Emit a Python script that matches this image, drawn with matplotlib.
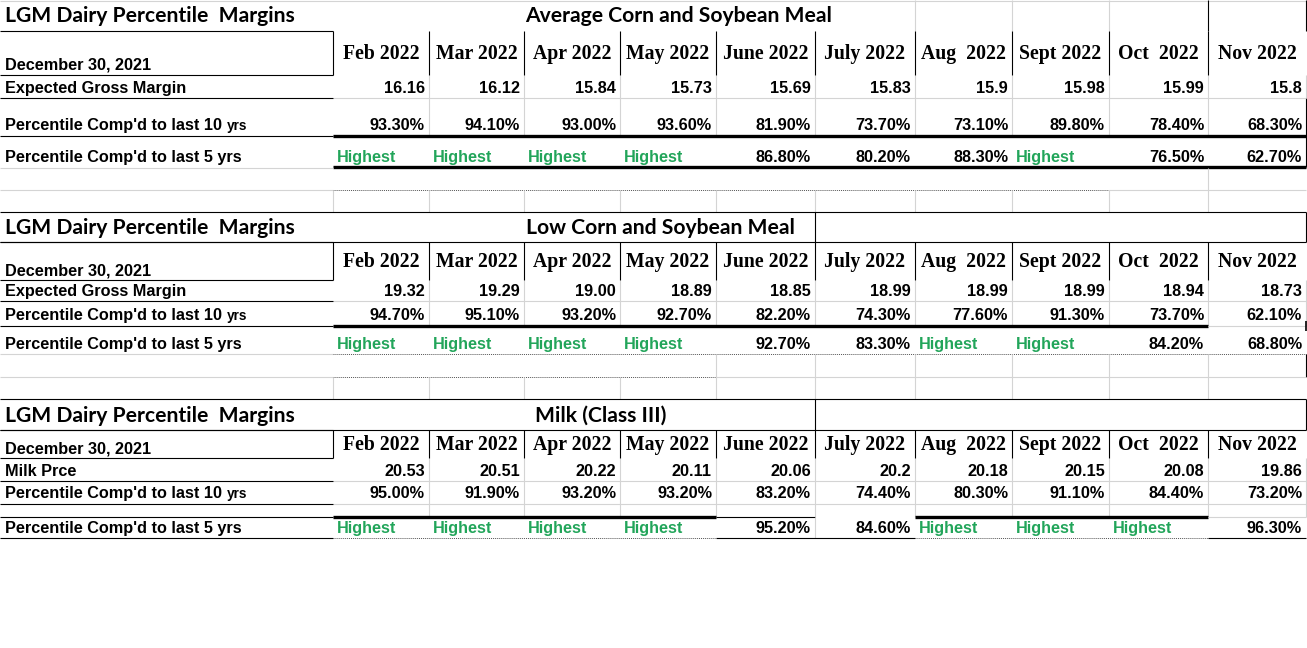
import matplotlib
matplotlib.use("Agg")
import matplotlib.pyplot as plt

# ---------------- data ----------------
months = ["Feb 2022", "Mar 2022", "Apr 2022", "May 2022", "June 2022",
          "July 2022", "Aug  2022", "Sept 2022", "Oct  2022", "Nov 2022"]
report_date = "December 30, 2021"
main_title = "LGM Dairy Percentile  Margins"
table_titles = ["Average Corn and Soybean Meal", "Low Corn and Soybean Meal", "Milk (Class III)"]
first_row_labels = ["Expected Gross Margin", "Expected Gross Margin", "Milk Prce"]

avg_margin = [16.16, 16.12, 15.84, 15.73, 15.69, 15.83, 15.9, 15.98, 15.99, 15.8]
avg_pct10 = [93.3, 94.1, 93.0, 93.6, 81.9, 73.7, 73.1, 89.8, 78.4, 68.3]
avg_pct5 = [None, None, None, None, 86.8, 80.2, 88.3, None, 76.5, 62.7]

low_margin = [19.32, 19.29, 19.00, 18.89, 18.85, 18.99, 18.99, 18.99, 18.94, 18.73]
low_pct10 = [94.7, 95.1, 93.2, 92.7, 82.2, 74.3, 77.6, 91.3, 73.7, 62.1]
low_pct5 = [None, None, None, None, 92.7, 83.3, None, None, 84.2, 68.8]

milk_price = [20.53, 20.51, 20.22, 20.11, 20.06, 20.2, 20.18, 20.15, 20.08, 19.86]
milk_pct10 = [95.0, 91.9, 93.2, 93.2, 83.2, 74.4, 80.3, 91.1, 84.4, 73.2]
milk_pct5 = [None, None, None, None, 95.2, 84.6, None, None, None, 96.3]

first_formats = ["{:g}", "{:.2f}", "{:g}"]
first_values = [avg_margin, low_margin, milk_price]
pct10_values = [avg_pct10, low_pct10, milk_pct10]
pct5_values = [avg_pct5, low_pct5, milk_pct5]

# ---------------- layout (pixels) ----------------
W, H = 1307, 648
cols = [0, 333, 429, 524, 620, 716, 815, 915, 1012, 1109, 1208, 1306]
GRAY = "#d4d4d4"
BLACK = "#000000"
GREEN = "#22a55a"
THIN = 0.8
THICK = 2.4

fig = plt.figure(figsize=(W / 100, H / 100), dpi=100)
ax = fig.add_axes([0, 0, 1, 1])
ax.set_xlim(0, W)
ax.set_ylim(H, 0)
ax.axis("off")

LABEL_FONT = dict(family="Liberation Sans", weight="bold", size=11.7)
NUM_FONT = dict(family="Liberation Sans", weight="bold", size=11.7)
HEAD_FONT = dict(family="Liberation Serif", weight="bold", size=14.2)
TITLE_FONT = dict(family="Lato", weight="bold", size=15.2)


def hl(y, x0, x1, color=GRAY, lw=THIN, ls="-"):
    ax.plot([x0, x1], [y, y], color=color, lw=lw, ls=ls, solid_capstyle="butt")


def vl(x, y0, y1, color=GRAY, lw=THIN):
    ax.plot([x, x], [y0, y1], color=color, lw=lw, solid_capstyle="butt")


DOT = (0, (1, 1))

tables = [
    dict(title=(0, 31), head=(31, 75), r1=(75, 98), r2=(98, 136), r3=(136, 167)),
    dict(title=(212, 242), head=(242, 280), r1=(280, 301), r2=(301, 326), r3=(326, 354)),
    dict(title=(399, 430), head=(430, 458), r1=(458, 481), r2=(481, 504), r3=(517, 538)),
]

# ---------------- gridlines / borders ----------------
# table 1
hl(1, 0, 1306)
for x in cols[7:11]:
    vl(x, 0, 31, GRAY if x < 1208 else BLACK)
vl(1306, 0, 31, BLACK)
for x in cols[2:11]:
    vl(x, 75, 136)
vl(1306, 75, 98)
vl(1306, 98, 167, BLACK)
hl(98, 333, 1306)
hl(136, 333, 1306, BLACK, THICK)
hl(167, 333, 1306, BLACK, THICK)
hl(168, 0, 333)
vl(1208, 168, 190)
hl(190, 0, 333)
hl(190, 333, 1109, "#555555", 0.7, DOT)
hl(190, 1109, 1306)
for x in cols[1:11]:
    vl(x, 190, 212)

# table 2
hl(212, 0, 1306, BLACK)
hl(242, 0, 1306, BLACK)
vl(815, 212, 242, BLACK)
vl(1306, 212, 242, BLACK)
for x in cols[2:11]:
    vl(x, 280, 326)
vl(1306, 280, 326)
hl(301, 333, 1306)
hl(326, 333, 1208, BLACK, THICK)
hl(326, 1208, 1306)
vl(1306, 321, 331, BLACK, 1.2)
hl(354, 0, 333)
hl(354, 333, 1306, "#555555", 0.7, DOT)
for x in cols[5:11]:
    vl(x, 354, 377)
vl(1306, 354, 377, BLACK)
hl(377, 0, 333)
hl(377, 333, 716, "#555555", 0.7, DOT)
hl(377, 716, 1306)
for x in cols[1:11]:
    vl(x, 377, 399)

# table 3
hl(399, 0, 1306, BLACK)
hl(430, 0, 1306, BLACK)
vl(815, 399, 430, BLACK)
vl(1306, 399, 430, BLACK)
for x in cols[2:11]:
    vl(x, 458, 517)
vl(1306, 458, 517)
hl(481, 333, 1306)
hl(504, 333, 1306)
hl(517, 0, 333, BLACK)
hl(517, 333, 716, BLACK, THICK)
hl(517, 716, 815, BLACK)
hl(517, 915, 1208, BLACK, THICK)
hl(517, 1208, 1306)
vl(815, 517, 538)
hl(538, 0, 333, BLACK)
hl(538, 333, 716, "#555555", 0.7, DOT)
hl(538, 716, 915, BLACK)
hl(538, 915, 1208, "#555555", 0.7, DOT)
hl(538, 1208, 1306, BLACK)

for t in tables:
    h0, h1 = t["head"]
    hl(h0, 0, 333, BLACK)
    vl(333, h0, h1, BLACK)
    hl(h1, 0, 333, BLACK)
    for x in cols[2:11]:
        vl(x, h0, h1, BLACK)
    hl(t["r1"][1], 0, 333, BLACK)
    hl(t["r2"][1], 0, 333, BLACK)

# ---------------- text ----------------
title_x = [525, 526, 535]
for i, t in enumerate(tables):
    ty = (t["title"][0] + t["title"][1]) / 2 + 1
    ax.text(5, ty, main_title, ha="left", va="center", **TITLE_FONT)
    ax.text(title_x[i], ty, table_titles[i], ha="left", va="center", **TITLE_FONT)

    h0, h1 = t["head"]
    ax.text(5, h1 - 5, report_date, ha="left", va="baseline", **LABEL_FONT)
    for j, m in enumerate(months):
        ax.text((cols[j + 1] + cols[j + 2]) / 2, (h0 + h1) / 2 + 1, m,
                ha="center", va="center", **HEAD_FONT)

    yb = t["r1"][1] - 5
    ax.text(5, yb, first_row_labels[i], ha="left", va="baseline", **LABEL_FONT)
    for j, v in enumerate(first_values[i]):
        ax.text(cols[j + 2] - 4, yb, first_formats[i].format(v),
                ha="right", va="baseline", **NUM_FONT)

    yb = t["r2"][1] - 6
    lab = ax.text(5, yb, "Percentile Comp'd to last 10 ", ha="left", va="baseline", **LABEL_FONT)
    ax.annotate("yrs", xycoords=(lab, "data"), xy=(1, yb), ha="left", va="baseline",
                family="Liberation Sans", weight="bold", size=9.8)
    for j, v in enumerate(pct10_values[i]):
        ax.text(cols[j + 2] - 4, yb, "{:.2f}%".format(v),
                ha="right", va="baseline", **NUM_FONT)

    yb = t["r3"][1] - 5
    ax.text(5, yb, "Percentile Comp'd to last 5 yrs", ha="left", va="baseline", **LABEL_FONT)
    for j, v in enumerate(pct5_values[i]):
        if v is None:
            ax.text(cols[j + 1] + 4, yb, "Highest", ha="left", va="baseline",
                    color=GREEN, **NUM_FONT)
        else:
            ax.text(cols[j + 2] - 4, yb, "{:.2f}%".format(v),
                    ha="right", va="baseline", **NUM_FONT)

fig.savefig("out.png", dpi=100, facecolor="white")
